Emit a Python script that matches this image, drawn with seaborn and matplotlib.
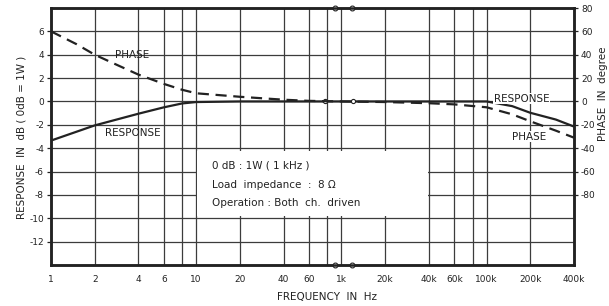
import numpy as np
import pandas as pd
import matplotlib
matplotlib.use('Agg')
import matplotlib.pyplot as plt
import seaborn as sns
from matplotlib.patches import Rectangle

# frequency response (dB) and phase (degree)
resp_freq = [1, 2, 4, 6, 8, 10, 20, 100, 10e3, 50e3, 100e3, 150e3, 200e3, 300e3, 400e3]
resp_db = [-3.35, -2.05, -1.05, -0.5, -0.17, -0.05, 0, 0, 0, 0, 0, -0.4, -0.97, -1.55, -2.15]

phase_freq = [1, 1.5, 2, 3, 4, 6, 8, 10, 20, 40, 60, 100, 10e3, 20e3, 40e3, 60e3, 100e3, 150e3, 200e3, 300e3, 400e3]
phase_deg = [60, 49, 40, 30, 23, 15, 10, 7, 4, 1.5, 0.5, 0, 0, -0.5, -1.5, -2.5, -5, -11, -17, -25, -31]

tick_freqs = [1, 2, 4, 6, 10, 20, 40, 60, 1000, 20e3, 40e3, 60e3, 100e3, 200e3, 400e3]
tick_labels = ['1', '2', '4', '6', '10', '20', '40', '60', '1k', '20k', '40k', '60k', '100k', '200k', '400k']
grid_freqs = [2, 4, 6, 8, 10, 20, 40, 60, 80, 1000, 20e3, 40e3, 60e3, 80e3, 100e3, 200e3]

db_ticks = [6, 4, 2, 0, -2, -4, -6, -8, -10, -12]
deg_ticks = [80, 60, 40, 20, 0, -20, -40, -60, -80]


def fmap(f):
    # broken log axis: 100 Hz .. 10 kHz collapsed onto one line
    f = np.asarray(f, dtype=float)
    lf = np.log10(f)
    return np.where(f <= 100, lf, np.where(f >= 1e4, lf - 2, 2.0))


sns.set_style('white')
plt.rcParams['font.family'] = ['DejaVu Sans']

fig = plt.figure(figsize=(6.09, 3.06), dpi=100)
ax = fig.add_axes([51 / 609, 1 - 265 / 306, 523 / 609, 257 / 306])
ax2 = ax.twinx()

line_col = '#222222'
grid_col = '#3c3c3c'

ax.set_xlim(0, np.log10(4e5) - 2)
ax.set_ylim(-14, 8)
ax2.set_ylim(-140, 80)

for g in fmap(grid_freqs):
    ax.axvline(g, color=grid_col, lw=0.9, zorder=1)
for v in range(-12, 8, 2):
    ax.axhline(v, color=grid_col, lw=0.9, zorder=1)

# note box
ax.add_patch(Rectangle((0.279, 0.191), 0.442, 0.253, transform=ax.transAxes,
                       facecolor='white', edgecolor='none', zorder=2))
notes = ['0 dB : 1W ( 1 kHz )', 'Load  impedance  :  8 \u03a9', 'Operation : Both  ch.  driven']
for txt, yy in zip(notes, [0.389, 0.311, 0.241]):
    ax.text(0.308, yy, txt, transform=ax.transAxes, fontsize=7.5, color=line_col,
            va='center', ha='left', zorder=3)

resp = pd.DataFrame({'x': fmap(resp_freq), 'db': resp_db})
phase = pd.DataFrame({'x': fmap(phase_freq), 'deg': phase_deg})

sns.lineplot(data=resp, x='x', y='db', ax=ax, color=line_col, lw=1.6, zorder=4)
sns.lineplot(data=phase, x='x', y='deg', ax=ax2, color=line_col, lw=1.6,
             dashes=False, zorder=4)
ax2.lines[-1].set_dashes((5, 3))

# break marks
for bx in [1.955, 2.07]:
    for by in [0, 1]:
        ax.plot(bx, by, marker='o', ms=3.5, mfc='white', mec=line_col, mew=0.8,
                transform=ax.get_xaxis_transform(), clip_on=False, zorder=6)
for bx in [1.89, 2.08]:
    ax.plot(bx, 0, marker='o', ms=3, mfc='white', mec=line_col, mew=0.8, zorder=6)

# curve labels
ax.text(0.557, 4.0, 'PHASE', fontsize=7.5, ha='center', va='center', color=line_col)
ax.text(0.564, -2.7, 'RESPONSE', fontsize=7.5, ha='center', va='center', color=line_col)
ax.text(3.24, 0.25, 'RESPONSE', fontsize=7.5, ha='center', va='center', color=line_col,
        bbox=dict(facecolor='white', edgecolor='none', pad=0.5), zorder=5)
ax.text(3.29, -3.0, 'PHASE', fontsize=7.5, ha='center', va='center', color=line_col,
        bbox=dict(facecolor='white', edgecolor='none', pad=0.5), zorder=5)

ax.set_xticks(fmap(tick_freqs))
ax.set_xticklabels(tick_labels)
ax.set_yticks(db_ticks)
ax.set_yticklabels([str(t) for t in db_ticks])
ax2.set_yticks(deg_ticks)
ax2.set_yticklabels([str(t) for t in deg_ticks])

ax.tick_params(axis='x', length=0, labelsize=6.5, pad=7, colors=line_col)
ax.tick_params(axis='y', length=3, width=0.9, labelsize=6.5, pad=2, colors=line_col, left=True)
ax2.tick_params(axis='y', length=3, width=0.9, labelsize=6.5, pad=2, colors=line_col, right=True)

ax.set_xlabel('')
ax.set_ylabel('')
ax2.set_ylabel('')
for a in (ax, ax2):
    for s in a.spines.values():
        s.set_color(line_col)
        s.set_linewidth(1.8)

fig.text(327 / 609, 1 - 297 / 306, 'FREQUENCY  IN  Hz', fontsize=7.5, ha='center',
         va='center', color=line_col)
fig.text(22 / 609, 1 - 137 / 306, 'RESPONSE  IN  dB ( 0dB = 1W )', fontsize=7.5,
         rotation=90, ha='center', va='center', color=line_col)
fig.text(603 / 609, 1 - 94 / 306, 'PHASE  IN  degree', fontsize=7.5, rotation=90,
         ha='center', va='center', color=line_col)

fig.savefig('out.png', dpi=100, facecolor='white')
